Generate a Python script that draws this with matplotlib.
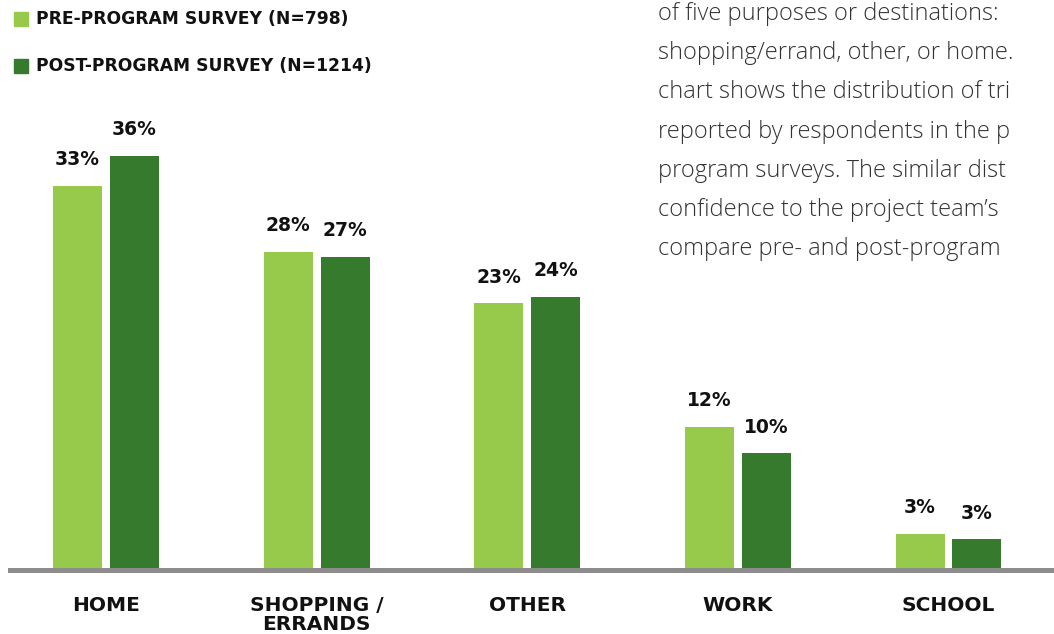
import numpy as np
import matplotlib.pyplot as plt

# Trip purpose distribution, pre vs post program survey (%)
categories = ['HOME', 'SHOPPING /\nERRANDS', 'OTHER', 'WORK', 'SCHOOL']
pre_values = [33.4, 27.6, 23.1, 12.3, 3.0]
post_values = [36.0, 27.2, 23.7, 10.0, 2.5]
pre_labels = ['33%', '28%', '23%', '12%', '3%']
post_labels = ['36%', '27%', '24%', '10%', '3%']
legend_labels = ['PRE-PROGRAM SURVEY (N=798)', 'POST-PROGRAM SURVEY (N=1214)']

paragraph = ['of five purposes or destinations:',
             'shopping/errand, other, or home.',
             'chart shows the distribution of tri',
             'reported by respondents in the p',
             'program surveys. The similar dist',
             'confidence to the project team\u2019s',
             'compare pre- and post-program']

light = '#97c94b'
dark = '#367b2d'
bold_font = 'DejaVu Sans'
text_font = 'Open Sans'

W, H = 1054, 634
fig = plt.figure(figsize=(W / 100, H / 100), dpi=100)
# axes from x=10..1054 px, y=100..568 px (from top)
ax = fig.add_axes([10 / W, (H - 568) / H, (W - 10) / W, 468 / H])

x = np.arange(len(categories))
width = 0.233
offset = 0.135
ax.bar(x - offset, pre_values, width, color=light, zorder=2)
ax.bar(x + offset, post_values, width, color=dark, zorder=2)

for i in range(len(categories)):
    ax.annotate(pre_labels[i], (x[i] - offset, pre_values[i]), xytext=(0, 12),
                textcoords='offset points', ha='center', va='bottom',
                fontsize=13.5, fontweight='bold', family=bold_font, color='#111111')
    ax.annotate(post_labels[i], (x[i] + offset, post_values[i]), xytext=(0, 12),
                textcoords='offset points', ha='center', va='bottom',
                fontsize=13.5, fontweight='bold', family=bold_font, color='#111111')
    ax.annotate(categories[i], (x[i], 0), xytext=(0, -20),
                textcoords='offset points', ha='center', va='top',
                fontsize=14.5, fontweight='bold', family=bold_font, color='#111111',
                linespacing=1.0)

ax.axhline(-0.17, color='#8c8c8c', lw=3.6, zorder=1, clip_on=False)

ax.set_xlim(-0.456, 4.501)
ax.set_ylim(0, 40.87)
ax.axis('off')

# legend
for j, (lab, col) in enumerate(zip(legend_labels, [light, dark])):
    yc = H - (19 + 47 * j)
    fig.patches.append(plt.Rectangle((14 / W, (yc - 7) / H), 14 / W, 14 / H,
                                     transform=fig.transFigure, color=col))
    fig.text(36 / W, yc / H, lab, ha='left', va='center', fontsize=12.3,
             fontweight='bold', family=bold_font, color='#111111')

# paragraph text at top right
for k, line in enumerate(paragraph):
    yc = 14 + 39.2 * k
    fig.text(658 / W, (H - yc) / H, line, ha='left', va='center',
             fontsize=17, fontweight='light', family=text_font, color='#333333')

fig.savefig('out.png', dpi=100)
